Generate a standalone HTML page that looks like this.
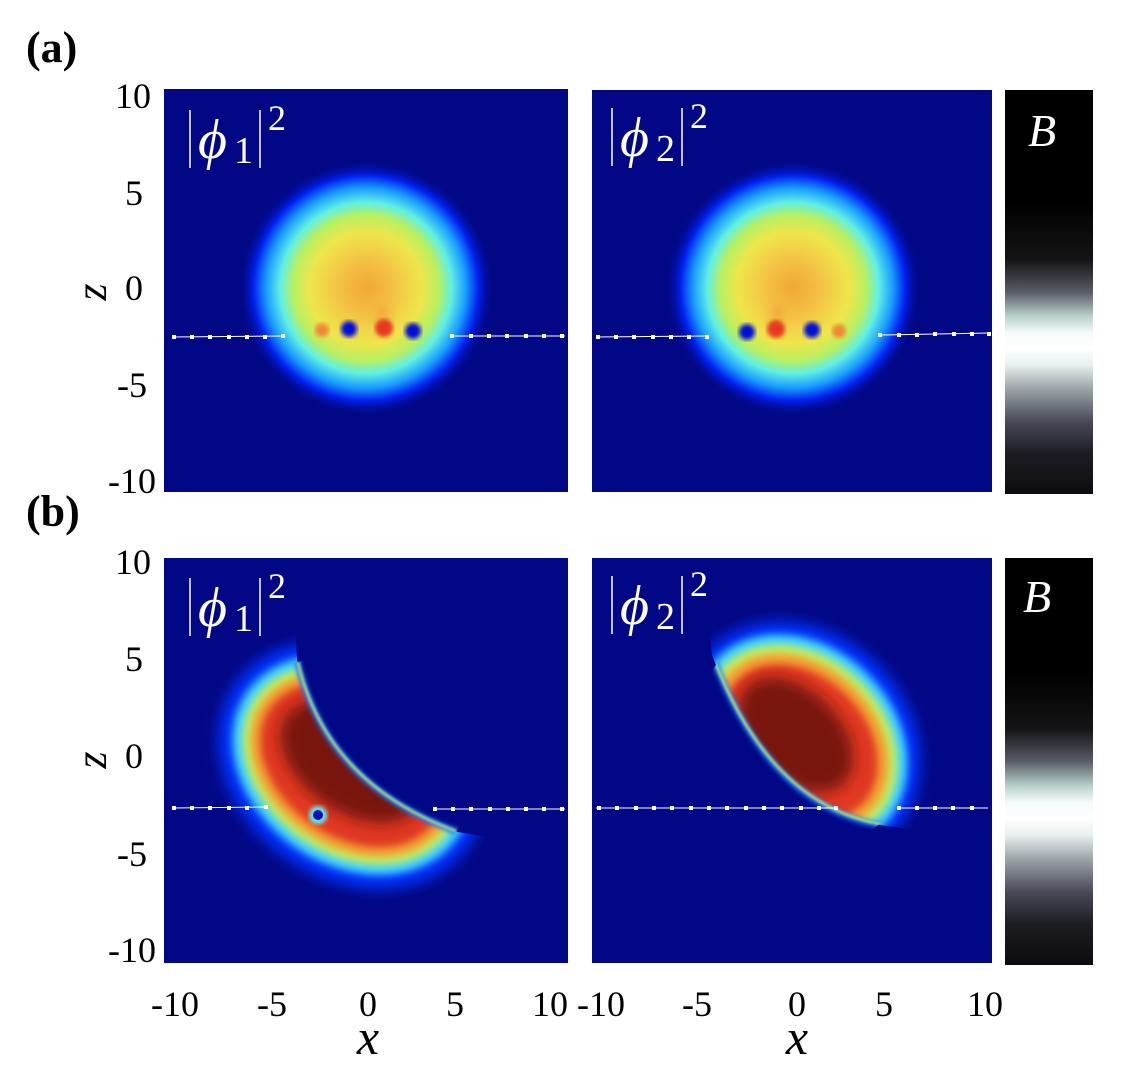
<!DOCTYPE html>
<html><head><meta charset="utf-8"><style>
html,body{margin:0;padding:0;background:#fff;width:1122px;height:1080px;overflow:hidden}
svg{display:block}
text{font-family:"Liberation Serif",serif;fill:#000}
.w{fill:#fff}
</style></head><body>
<svg width="1122" height="1080" viewBox="0 0 1122 1080" xmlns="http://www.w3.org/2000/svg">
<defs>
<radialGradient id="gTop" cx="0.5" cy="0.5" r="0.5">
<stop offset="0" stop-color="#f2ac3a"/>
<stop offset="0.22" stop-color="#f4c446"/>
<stop offset="0.44" stop-color="#eee64a"/>
<stop offset="0.57" stop-color="#b8f062"/>
<stop offset="0.67" stop-color="#60f0e4"/>
<stop offset="0.78" stop-color="#1a9cff"/>
<stop offset="0.88" stop-color="#0020f0"/>
<stop offset="1" stop-color="#020885" stop-opacity="0"/>
</radialGradient>
<radialGradient id="gOr" cx="0.5" cy="0.5" r="0.5">
<stop offset="0" stop-color="#f0a838" stop-opacity="0.85"/>
<stop offset="1" stop-color="#f4c040" stop-opacity="0"/>
</radialGradient>
<linearGradient id="gCb" x1="0" y1="0" x2="0" y2="1">
<stop offset="0" stop-color="#000"/>
<stop offset="0.28" stop-color="#000"/>
<stop offset="0.42" stop-color="#141416"/>
<stop offset="0.5" stop-color="#5a5c66"/>
<stop offset="0.56" stop-color="#b8d0cc"/>
<stop offset="0.6" stop-color="#f4fafa"/>
<stop offset="0.64" stop-color="#ffffff"/>
<stop offset="0.68" stop-color="#e8f0f0"/>
<stop offset="0.74" stop-color="#9aa4a8"/>
<stop offset="0.82" stop-color="#4a4a58"/>
<stop offset="0.9" stop-color="#1c1c22"/>
<stop offset="1" stop-color="#0c0c10"/>
</linearGradient>
<filter id="bl1"><feGaussianBlur stdDeviation="1.2"/></filter>
<filter id="bl2"><feGaussianBlur stdDeviation="2"/></filter>
<filter id="bl4"><feGaussianBlur stdDeviation="4"/></filter>
<filter id="bl7"><feGaussianBlur stdDeviation="7"/></filter>
<clipPath id="cTL"><rect x="164" y="89" width="404" height="403"/></clipPath>
<clipPath id="cTR"><rect x="592" y="90" width="400" height="402"/></clipPath>
<clipPath id="cBLs"><path d="M164 558 L292 558 L297 660 Q325 785 458 832 L568 850 L568 963 L164 963 Z"/></clipPath>
<clipPath id="cBRs"><path d="M700 558 L712 655 Q770 810 886 826 L992 840 L992 558 Z"/></clipPath>
<clipPath id="eBL"><ellipse cx="352" cy="765" rx="124" ry="97" transform="rotate(35 352 765)"/></clipPath>
<clipPath id="eBR"><ellipse cx="800" cy="742" rx="114" ry="93" transform="rotate(45 800 742)"/></clipPath>
</defs>

<text x="26" y="62" font-size="44" font-weight="bold">(a)</text>
<text x="26" y="526" font-size="44" font-weight="bold">(b)</text>

<!-- top-left -->
<rect x="164" y="89" width="404" height="403" fill="#020885"/>
<g clip-path="url(#cTL)">
<circle cx="366" cy="288" r="128" fill="url(#gTop)"/>
<ellipse cx="368" cy="288" rx="34" ry="38" fill="url(#gOr)"/>
<ellipse cx="382" cy="312" rx="16" ry="20" fill="url(#gOr)"/>
<circle cx="322" cy="330" r="7" fill="#f08838" filter="url(#bl2)"/>
<circle cx="349" cy="329" r="8" fill="#0010d8" filter="url(#bl2)"/>
<circle cx="384" cy="328" r="9" fill="#e83820" filter="url(#bl2)"/>
<circle cx="413" cy="331" r="8" fill="#0010d8" filter="url(#bl2)"/>
<line x1="173" y1="337" x2="284" y2="336" stroke="#fff" stroke-width="1"/>
<line x1="452" y1="336" x2="565" y2="336" stroke="#fff" stroke-width="1"/>
<g fill="#fff">
<rect x="172" y="335" width="4" height="4"/><rect x="190" y="335" width="4" height="4"/><rect x="208" y="335" width="4" height="4"/><rect x="227" y="335" width="4" height="4"/><rect x="245" y="335" width="4" height="4"/><rect x="263" y="335" width="4" height="4"/><rect x="281" y="334" width="4" height="4"/>
<rect x="450" y="334" width="4" height="4"/><rect x="469" y="334" width="4" height="4"/><rect x="487" y="334" width="4" height="4"/><rect x="505" y="334" width="4" height="4"/><rect x="524" y="334" width="4" height="4"/><rect x="542" y="334" width="4" height="4"/><rect x="560" y="334" width="4" height="4"/>
</g>
</g>

<!-- top-right -->
<rect x="592" y="90" width="400" height="402" fill="#020885"/>
<g clip-path="url(#cTR)">
<circle cx="793" cy="288" r="128" fill="url(#gTop)"/>
<ellipse cx="793" cy="288" rx="34" ry="38" fill="url(#gOr)"/>
<ellipse cx="778" cy="312" rx="16" ry="20" fill="url(#gOr)"/>
<circle cx="747" cy="332" r="8" fill="#0010d8" filter="url(#bl2)"/>
<circle cx="776" cy="329" r="9" fill="#e83820" filter="url(#bl2)"/>
<circle cx="812" cy="330" r="8" fill="#0010d8" filter="url(#bl2)"/>
<circle cx="839" cy="331" r="7" fill="#f08838" filter="url(#bl2)"/>
<line x1="596" y1="337" x2="707" y2="336" stroke="#fff" stroke-width="1"/>
<line x1="880" y1="335" x2="990" y2="333" stroke="#fff" stroke-width="1"/>
<g fill="#fff">
<rect x="596" y="335" width="4" height="4"/><rect x="614" y="335" width="4" height="4"/><rect x="632" y="335" width="4" height="4"/><rect x="651" y="335" width="4" height="4"/><rect x="669" y="335" width="4" height="4"/><rect x="687" y="335" width="4" height="4"/><rect x="705" y="335" width="4" height="4"/>
<rect x="878" y="333" width="4" height="4"/><rect x="897" y="333" width="4" height="4"/><rect x="915" y="333" width="4" height="4"/><rect x="933" y="332" width="4" height="4"/><rect x="952" y="332" width="4" height="4"/><rect x="970" y="332" width="4" height="4"/><rect x="987" y="332" width="4" height="4"/>
</g>
</g>

<!-- colorbars -->
<rect x="1005" y="90" width="88" height="404" fill="url(#gCb)"/>
<rect x="1005" y="558" width="88" height="407" fill="url(#gCb)"/>
<text x="1028" y="146" font-size="46" font-style="italic" class="w">B</text>
<text x="1023" y="612" font-size="46" font-style="italic" class="w">B</text>

<!-- bottom-left -->
<rect x="164" y="558" width="404" height="405" fill="#020885"/>
<g clip-path="url(#cBLs)">
<g transform="rotate(35 352 765)">
<ellipse cx="352" cy="765" rx="142" ry="114" fill="#0030ff" filter="url(#bl7)"/>
<ellipse cx="352" cy="765" rx="128" ry="100" fill="#40d0ff" filter="url(#bl4)"/>
<ellipse cx="352" cy="765" rx="118" ry="90" fill="#c0f060" filter="url(#bl4)"/>
<ellipse cx="352" cy="765" rx="110" ry="82" fill="#f4a030" filter="url(#bl4)"/>
<ellipse cx="352" cy="765" rx="100" ry="72" fill="#e03820" filter="url(#bl4)"/>
<ellipse cx="350" cy="762" rx="80" ry="50" fill="#78140e" filter="url(#bl7)"/>
</g>
</g>
<g clip-path="url(#eBL)">
<path d="M297 660 Q325 785 458 832" fill="none" stroke="#2070ff" stroke-width="6" filter="url(#bl2)"/>
<path d="M298 662 Q326 783 456 831" fill="none" stroke="#b0f070" stroke-width="2.5" filter="url(#bl1)"/>
</g>
<circle cx="318" cy="815" r="9" fill="#60f0f0" filter="url(#bl2)"/>
<circle cx="318" cy="815" r="5" fill="#0010c0"/>
<line x1="172" y1="808" x2="268" y2="807" stroke="#fff" stroke-width="1"/>
<line x1="433" y1="809" x2="565" y2="809" stroke="#fff" stroke-width="1"/>
<g fill="#fff">
<rect x="172" y="806" width="4" height="4"/><rect x="190" y="806" width="4" height="4"/><rect x="208" y="806" width="4" height="4"/><rect x="227" y="806" width="4" height="4"/><rect x="245" y="806" width="4" height="4"/><rect x="264" y="805" width="4" height="4"/>
<rect x="433" y="807" width="4" height="4"/><rect x="451" y="807" width="4" height="4"/><rect x="469" y="807" width="4" height="4"/><rect x="488" y="807" width="4" height="4"/><rect x="506" y="807" width="4" height="4"/><rect x="524" y="807" width="4" height="4"/><rect x="542" y="807" width="4" height="4"/><rect x="560" y="807" width="4" height="4"/>
</g>

<!-- bottom-right -->
<rect x="592" y="558" width="400" height="405" fill="#020885"/>
<g clip-path="url(#cBRs)">
<g transform="rotate(45 800 742)">
<ellipse cx="800" cy="742" rx="130" ry="110" fill="#0030ff" filter="url(#bl7)"/>
<ellipse cx="800" cy="742" rx="118" ry="96" fill="#40d0ff" filter="url(#bl4)"/>
<ellipse cx="800" cy="742" rx="108" ry="86" fill="#c0f060" filter="url(#bl4)"/>
<ellipse cx="800" cy="742" rx="99" ry="77" fill="#f4a030" filter="url(#bl4)"/>
<ellipse cx="800" cy="742" rx="88" ry="66" fill="#e03820" filter="url(#bl4)"/>
<ellipse cx="792" cy="740" rx="68" ry="44" fill="#78140e" filter="url(#bl7)"/>
</g>
</g>
<g clip-path="url(#eBR)">
<path d="M712 655 Q770 810 886 826" fill="none" stroke="#2070ff" stroke-width="6" filter="url(#bl2)"/>
<path d="M713 657 Q771 808 886 825" fill="none" stroke="#b0f070" stroke-width="2.5" filter="url(#bl1)"/>
</g>
<line x1="596" y1="808" x2="835" y2="808" stroke="#fff" stroke-width="1"/>
<line x1="897" y1="808" x2="988" y2="808" stroke="#fff" stroke-width="1"/>
<g fill="#fff">
<rect x="597" y="806" width="4" height="4"/><rect x="615" y="806" width="4" height="4"/><rect x="634" y="806" width="4" height="4"/><rect x="652" y="806" width="4" height="4"/><rect x="670" y="806" width="4" height="4"/><rect x="689" y="806" width="4" height="4"/><rect x="707" y="806" width="4" height="4"/><rect x="725" y="806" width="4" height="4"/><rect x="744" y="806" width="4" height="4"/><rect x="762" y="806" width="4" height="4"/><rect x="780" y="806" width="4" height="4"/><rect x="799" y="806" width="4" height="4"/><rect x="817" y="806" width="4" height="4"/><rect x="834" y="806" width="4" height="4"/>
<rect x="897" y="806" width="4" height="4"/><rect x="915" y="806" width="4" height="4"/><rect x="933" y="806" width="4" height="4"/><rect x="951" y="806" width="4" height="4"/><rect x="970" y="806" width="4" height="4"/>
</g>

<!-- phi labels -->
<g stroke="#fff" stroke-width="1.5">
<line x1="190" y1="110" x2="190" y2="168"/><line x1="260" y1="110" x2="260" y2="168"/>
<line x1="612" y1="108" x2="612" y2="166"/><line x1="682" y1="108" x2="682" y2="166"/>
<line x1="190" y1="578" x2="190" y2="636"/><line x1="260" y1="578" x2="260" y2="636"/>
<line x1="612" y1="576" x2="612" y2="634"/><line x1="682" y1="576" x2="682" y2="634"/>
</g>
<g>
<text x="198" y="158" font-size="56" font-style="italic" class="w">ϕ</text><text x="234" y="163" font-size="38" class="w">1</text><text x="268" y="130" font-size="36" class="w">2</text>
<text x="620" y="156" font-size="56" font-style="italic" class="w">ϕ</text><text x="656" y="161" font-size="38" class="w">2</text><text x="690" y="128" font-size="36" class="w">2</text>
<text x="198" y="626" font-size="56" font-style="italic" class="w">ϕ</text><text x="234" y="631" font-size="38" class="w">1</text><text x="268" y="598" font-size="36" class="w">2</text>
<text x="620" y="624" font-size="56" font-style="italic" class="w">ϕ</text><text x="656" y="629" font-size="38" class="w">2</text><text x="690" y="596" font-size="36" class="w">2</text>
</g>

<!-- y ticks -->
<g font-size="36" text-anchor="end">
<text x="151" y="108">10</text><text x="143" y="205">5</text><text x="143" y="300">0</text><text x="147" y="397">-5</text><text x="156" y="493">-10</text>
<text x="151" y="574">10</text><text x="143" y="671">5</text><text x="143" y="768">0</text><text x="147" y="866">-5</text><text x="156" y="962">-10</text>
</g>
<text transform="translate(106,292) rotate(-90)" font-size="44" font-style="italic" text-anchor="middle">z</text>
<text transform="translate(106,760) rotate(-90)" font-size="44" font-style="italic" text-anchor="middle">z</text>

<!-- x ticks -->
<g font-size="36" text-anchor="middle">
<text x="175" y="1016">-10</text><text x="272" y="1016">-5</text><text x="368" y="1016">0</text><text x="455" y="1016">5</text><text x="550" y="1016">10</text>
<text x="601" y="1016">-10</text><text x="697" y="1016">-5</text><text x="797" y="1016">0</text><text x="884" y="1016">5</text><text x="985" y="1016">10</text>
</g>
<text x="368" y="1054" font-size="50" font-style="italic" text-anchor="middle">x</text>
<text x="797" y="1054" font-size="50" font-style="italic" text-anchor="middle">x</text>
</svg>
</body></html>
